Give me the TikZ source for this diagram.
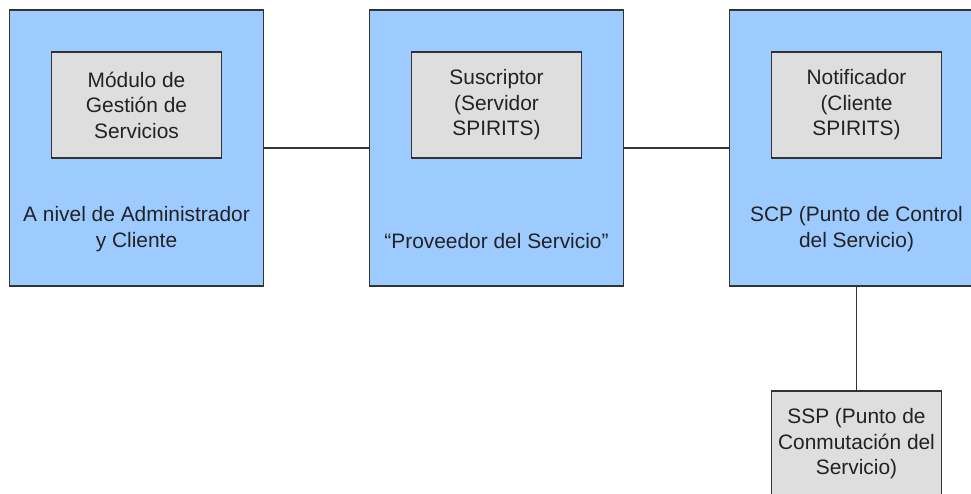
\documentclass[tikz,border=0pt]{standalone}
\usepackage{fontspec}
\setmainfont{Liberation Sans}
\usepackage{tikz}
\usetikzlibrary{positioning}
\definecolor{colorLayer}{HTML}{9DCBFF}
\definecolor{colorModule}{HTML}{DEDEDE}
\definecolor{colorEdge}{HTML}{333333}
\definecolor{colorText}{HTML}{222222}
\tikzset{
  layer/.style={draw=colorEdge, fill=colorLayer, line width=1.4pt, minimum width=254pt, minimum height=276pt, inner sep=0pt, outer sep=0pt},
  module/.style={draw=colorEdge, fill=colorModule, line width=1.4pt, minimum width=170pt, minimum height=106pt, inner sep=0pt, outer sep=0pt, align=center, text=colorText},
  caption/.style={align=center, inner sep=0pt, text=colorText},
}
\begin{document}
\begin{tikzpicture}[x=1pt, y=-1pt, line width=1.4pt, node distance=106pt, every node/.style={font=\fontsize{20.9}{25.5}\selectfont}]
\clip (0,0) rectangle (971,493);
\node[layer] (adm) at (136.5,148) {};
\node[layer, right=of adm] (prov) {};
\node[layer, right=of prov] (scp) {};
\node[module, below=42pt of adm.north] (gestion) {Módulo de\\Gestión de\\Servicios};
\node[module, below=42pt of prov.north] (suscriptor) {Suscriptor\\(Servidor\\SPIRITS)};
\node[module, below=42pt of scp.north] (notificador) {Notificador\\(Cliente\\SPIRITS)};
\node[module, below=105pt of scp] (ssp) {SSP (Punto de\\Conmutación del\\Servicio)};
% textos de cada nivel
\node[caption] (admtxt) at ([yshift=-81pt]adm.center) {A nivel de Administrador\\y Cliente};
\node[caption] (provtxt) at ([yshift=-93pt]prov.center) {“Proveedor del Servicio”};
\node[caption] (scptxt) at ([yshift=-81pt]scp.center) {SCP (Punto de Control\\del Servicio)};
% conexiones
\draw[colorEdge] (adm) -- (prov);
\draw[colorEdge] (prov) -- (scp);
\draw[colorEdge] (scp) -- (ssp);
\end{tikzpicture}
\end{document}
